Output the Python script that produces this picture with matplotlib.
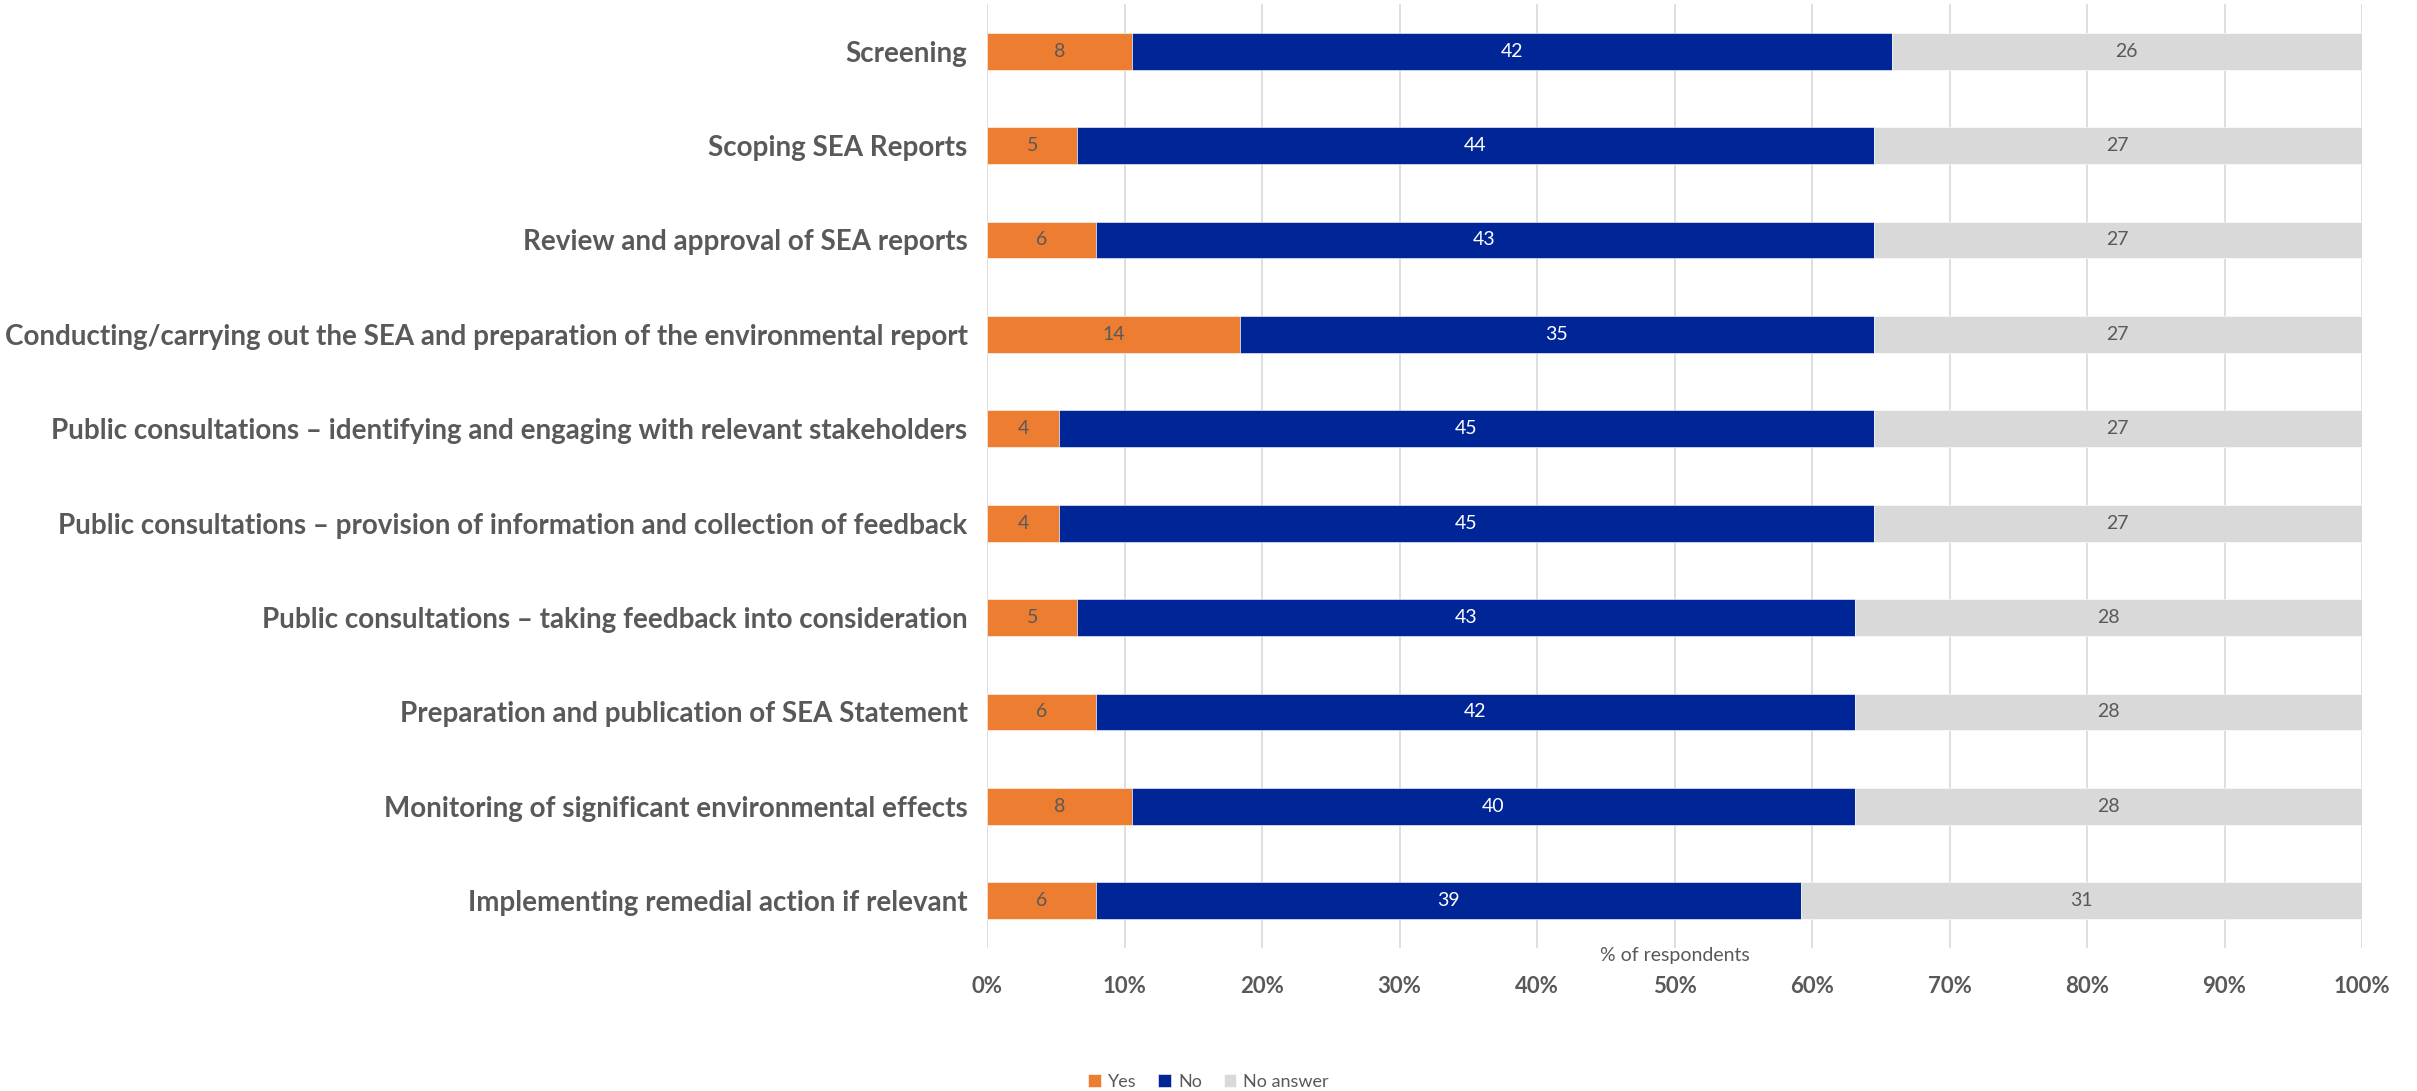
import numpy as np
import matplotlib
matplotlib.use("Agg")
import matplotlib.pyplot as plt
from matplotlib.ticker import PercentFormatter

plt.rcParams['font.family'] = ['Lato', 'DejaVu Sans']

# Datos
categorias = [
    "Screening",
    "Scoping SEA Reports",
    "Review and approval of SEA reports",
    "Conducting/carrying out the SEA and preparation of the environmental report",
    "Public consultations \u2013 identifying and engaging with relevant stakeholders",
    "Public consultations \u2013 provision of information and collection of feedback",
    "Public consultations \u2013 taking feedback into consideration",
    "Preparation and publication of SEA Statement",
    "Monitoring of significant environmental effects",
    "Implementing remedial action if relevant",
]
si = [8, 5, 6, 14, 4, 4, 5, 6, 8, 6]
no = [42, 44, 43, 35, 45, 45, 43, 42, 40, 39]
sin_respuesta = [26, 27, 27, 27, 27, 27, 28, 28, 28, 31]

series = [
    ("Yes", si, "#ED7D31", "#595959"),
    ("No", no, "#002596", "white"),
    ("No answer", sin_respuesta, "#D9D9D9", "#595959"),
]

fig = plt.figure(figsize=(24.17, 10.91), dpi=100)
ax = fig.add_axes([987 / 2417, 1 - 948 / 1091, (2362 - 987) / 2417, (948 - 4) / 1091])

y = np.arange(len(categorias))
totales = np.array(si) + np.array(no) + np.array(sin_respuesta)
izquierda = np.zeros(len(categorias))

for nombre, valores, color, color_texto in series:
    v = np.array(valores, dtype=float)
    pct = v / totales * 100
    barras = ax.barh(y, pct, left=izquierda, height=0.39, color=color,
                     edgecolor="white", linewidth=0.4, label=nombre, zorder=3)
    for i, b in enumerate(barras):
        ax.text(izquierda[i] + pct[i] / 2, y[i], str(valores[i]),
                ha="center", va="center", fontsize=14, color=color_texto, zorder=4)
    izquierda += pct

ax.set_xlim(0, 100)
ax.set_ylim(len(categorias) - 0.5, -0.5)
ax.set_yticks(y)
ax.set_yticklabels(categorias, fontsize=20, fontweight="bold", color="#595959")
ax.set_xticks(np.arange(0, 101, 10))
ax.xaxis.set_major_formatter(PercentFormatter(decimals=0))
ax.tick_params(axis="x", labelsize=16, labelcolor="#595959", length=0, pad=20)
ax.tick_params(axis="y", length=0, pad=14)
for lbl in ax.get_xticklabels():
    lbl.set_fontweight("bold")
ax.grid(axis="x", color="#D9D9D9", linewidth=1.2, zorder=0)
for s in ax.spines.values():
    s.set_visible(False)

fig.text((987 + 2362) / 2 / 2417, 1 - 955 / 1091, "% of respondents",
         ha="center", va="center", fontsize=14, color="#595959")

fig.legend(loc="center", bbox_to_anchor=(0.5, 1 - 1082 / 1091), ncol=3, frameon=False,
           fontsize=13, labelcolor="#595959", handlelength=0.7, handleheight=0.7,
           handletextpad=0.4, columnspacing=1.2)

fig.savefig("out.png", dpi=100)
